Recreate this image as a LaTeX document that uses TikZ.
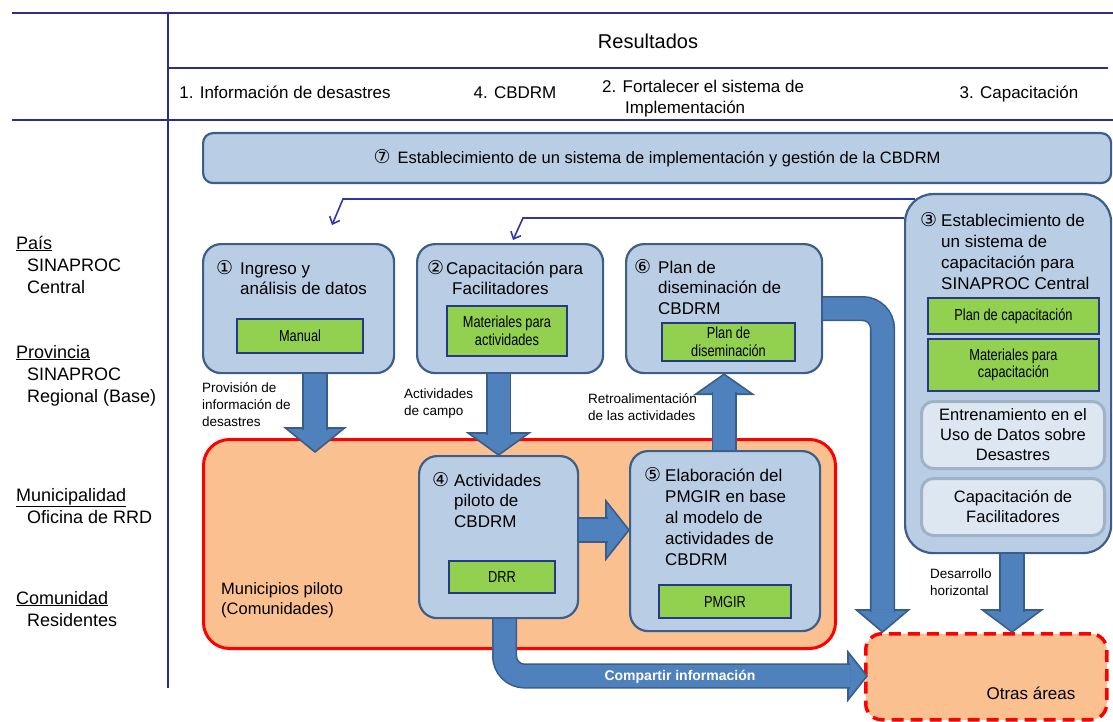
\documentclass[tikz,border=0pt]{standalone}
\usepackage{fontspec}
\setmainfont{Liberation Sans}
\newfontfamily\symfont{DejaVu Sans}
\newfontfamily\narrowfont[FakeStretch=0.8]{Liberation Sans}
\usetikzlibrary{arrows.meta}
\definecolor{navy}{RGB}{46,46,138}
\definecolor{ptblue}{RGB}{52,52,170}
\definecolor{boxfill}{RGB}{185,205,229}
\definecolor{boxline}{RGB}{62,94,138}
\definecolor{greenfill}{RGB}{146,208,80}
\definecolor{greenline}{RGB}{36,58,130}
\definecolor{palefill}{RGB}{221,231,242}
\definecolor{paleline}{RGB}{160,178,198}
\definecolor{arrfill}{RGB}{79,129,189}
\definecolor{arrline}{RGB}{56,93,138}
\definecolor{peach}{RGB}{250,192,144}
\newcommand{\circnum}[1]{\makebox[24pt][l]{\symfont\fontsize{19}{19}\selectfont #1}}
\newcommand{\txtlines}[1]{\begin{tabular}[t]{@{}l@{}}#1\end{tabular}}

\begin{document}
\begin{tikzpicture}[x=1pt,y=-1pt,
    navyline/.style={draw=navy, line width=2pt},
    bluebox/.style={draw=boxline, fill=boxfill, line width=2.2pt, rounded corners=18pt, anchor=north west, inner sep=0pt},
    greenbox/.style={draw=greenline, fill=greenfill, line width=2pt, anchor=north west, inner sep=0pt, align=center, font=\narrowfont\fontsize{16}{17.5}\selectfont},
    palebox/.style={draw=paleline, fill=palefill, line width=3pt, rounded corners=12pt, anchor=north west, inner sep=0pt, align=center, font=\fontsize{16.5}{20}\selectfont},
    munbox/.style={draw=red, fill=peach, line width=3pt, rounded corners=26pt, anchor=north west, inner sep=0pt},
    otrasbox/.style={draw=red, fill=peach, line width=3.5pt, dash pattern=on 12pt off 7pt, rounded corners=16pt, anchor=north west, inner sep=0pt},
    boxtxt/.style={anchor=base west, inner sep=0pt, font=\fontsize{17}{20.5}\selectfont},
    small/.style={anchor=base west, inner sep=0pt, font=\fontsize{13.5}{17}\selectfont},
    side/.style={anchor=base west, inner sep=0pt, font=\fontsize{18}{22}\selectfont},
    head/.style={anchor=base, inner sep=0pt, font=\fontsize{17}{21}\selectfont},
    pointer/.style={draw=ptblue, line width=1.6pt, -{Straight Barb[length=6pt,width=11pt]}},
    fatband/.style={draw=arrline, double=arrfill, double distance=22pt, line width=1.6pt, rounded corners=20pt},
    fathead/.style={draw=arrline, fill=arrfill, line width=1.6pt}]

\useasboundingbox (0,0) rectangle (1113,722);

\draw[navyline] (12,13) -- (1113,13);
\draw[navyline] (168,68) -- (1108,68);
\draw[navyline] (12,120) -- (1113,120);
\draw[navyline, line width=1.5pt] (168,13) -- (168,688);

\node[head, font=\fontsize{20}{24}\selectfont] (res) at (648,49) {Resultados};
\node[head] (h1) at (285,99) {1. Información de desastres};
\node[head] (h4) at (515,99) {4. CBDRM};
\node[head, anchor=base west] (h2) at (602,93) {\txtlines{2. Fortalecer el sistema de\\\hspace*{23pt}Implementación}};
\node[head] (h3) at (1019,99) {3. Capacitación};

\node[side] (pais) at (16,249) {\txtlines{\underline{País}\\\hspace*{11pt}SINAPROC\\\hspace*{11pt}Central}};
\node[side] (prov) at (16,358) {\txtlines{\underline{Provincia}\\\hspace*{11pt}SINAPROC\\\hspace*{11pt}Regional (Base)}};
\node[side] (muni) at (16,501) {\txtlines{\underline{Municipalidad}\\\hspace*{11pt}Oficina de RRD}};
\node[side] (comu) at (16,604) {\txtlines{\underline{Comunidad}\\\hspace*{11pt}Residentes}};

\node[bluebox, rounded corners=10pt, minimum width=908pt, minimum height=50pt, font=\fontsize{16.5}{20}\selectfont] (b7) at (202,132) {\circnum{⑦}Establecimiento de un sistema de implementación y gestión de la CBDRM};

\node[munbox, minimum width=632pt, minimum height=209pt] (mun) at (202,438) {};
\node[otrasbox, minimum width=241pt, minimum height=86pt] (otras) at (864,632) {};

\coordinate (k1) at (343,199);
\coordinate (k2) at (523,218);
\coordinate (p1) at (332,225);
\coordinate (p2) at (513,240);

\node[bluebox, rounded corners=28pt, minimum width=206pt, minimum height=359pt] (b3) at (904,193) {};
\draw[pointer] ([shift={(11,6)}]b3.north west) -- (k1) -- (p1);
\draw[pointer] (b3.west |- k2) -- (k2) -- (p2);

\node[bluebox, minimum width=191pt, minimum height=129pt] (b1) at (202,243) {};
\node[bluebox, minimum width=186pt, minimum height=129pt] (b2) at (416,243) {};
\node[bluebox, minimum width=196pt, minimum height=129pt] (b6) at (625,243) {};
\node[bluebox, minimum width=159pt, minimum height=162pt] (b4) at (418,455) {};
\node[bluebox, minimum width=190pt, minimum height=180pt] (b5) at (629,450) {};

\node[greenbox, minimum width=126pt, minimum height=34pt] (gman) at (236,318) {Manual};
\node[greenbox, minimum width=120pt, minimum height=50pt] (gmat) at (446,305) {Materiales para\\actividades};
\node[greenbox, minimum width=133pt, minimum height=38pt] (gdis) at (661,322) {Plan de\\diseminación};
\node[greenbox, minimum width=171pt, minimum height=36pt] (gplc) at (927,297) {Plan de capacitación};
\node[greenbox, minimum width=171pt, minimum height=52pt] (gmtc) at (927,338) {Materiales para\\capacitación};
\node[greenbox, minimum width=106pt, minimum height=32pt] (gdrr) at (448,560) {DRR};
\node[greenbox, minimum width=132pt, minimum height=33pt] (gpmg) at (658,584) {PMGIR};

\node[palebox, minimum width=183pt, minimum height=67pt] (pent) at (920,400) {Entrenamiento en el\\Uso de Datos sobre\\Desastres};
\node[palebox, minimum width=183pt, minimum height=57pt] (pcap) at (920,477) {Capacitación de\\Facilitadores};

\coordinate (tA) at (315,452);
\filldraw[fathead] (tA) -- ++(-29.5,-24) -- ++(59,0) -- cycle;
\draw[fatband] (b1.south -| tA) -- ([yshift=22pt]tA);

\filldraw[fathead] (b4.north) -- ++(-30.5,-22) -- ++(61,0) -- cycle;
\draw[fatband] (b2.south -| b4.north) -- ([yshift=20pt]b4.north);

\filldraw[fathead] (b6.south) -- ++(-28.5,20) -- ++(57,0) -- cycle;
\draw[fatband] (b5.north -| b6.south) -- ([yshift=-18pt]b6.south);

\coordinate (tD) at (629,530);
\filldraw[fathead] (tD) -- ++(-23,-29) -- ++(0,58) -- cycle;
\draw[fatband] (b4.east |- tD) -- ([xshift=-21pt]tD);

\coordinate (tE) at (882.5,632);
\filldraw[fathead] (tE) -- ++(-26,-22) -- ++(52,0) -- cycle;
\draw[fatband] (b6.east) -- (b6.east -| tE) -- ([yshift=20pt]tE);

\coordinate (tF) at (1012,632);
\filldraw[fathead] (tF) -- ++(-29.5,-22) -- ++(59,0) -- cycle;
\draw[fatband] (b3.south -| tF) -- ([yshift=20pt]tF);

\coordinate (tG) at (867,676);
\filldraw[fathead] (tG) -- ++(-19,-24) -- ++(0,48) -- cycle;
\draw[fatband] ([xshift=6pt]b4.south) |- ([xshift=-17pt]tG);
\node[text=white, inner sep=0pt, font=\bfseries\fontsize{14}{16}\selectfont] (comp) at (680,677) {Compartir información};

\node[boxtxt] (b1t) at ([shift={(14,31)}]b1.north west) {\circnum{①}\txtlines{Ingreso y\\análisis de datos}};
\node[boxtxt] (b2t) at ([shift={(11,31)}]b2.north west) {\makebox[19pt][l]{\symfont\fontsize{19}{19}\selectfont ②}\txtlines{Capacitación para\\\hspace*{6pt}Facilitadores}};
\node[boxtxt] (b6t) at ([shift={(9,30)}]b6.north west) {\circnum{⑥}\txtlines{Plan de\\diseminación de\\CBDRM}};
\node[boxtxt, font=\fontsize{17}{21}\selectfont] (b3t) at ([shift={(16,33)}]b3.north west) {\makebox[21pt][l]{\symfont\fontsize{19}{19}\selectfont ③}\txtlines{Establecimiento de\\un sistema de\\capacitación para\\SINAPROC Central}};
\node[boxtxt] (b4t) at ([shift={(14,31)}]b4.north west) {\makebox[22pt][l]{\symfont\fontsize{19}{19}\selectfont ④}\txtlines{Actividades\\piloto de\\CBDRM}};
\node[boxtxt, font=\fontsize{17}{21}\selectfont] (b5t) at ([shift={(15,31)}]b5.north west) {\makebox[21pt][l]{\symfont\fontsize{19}{19}\selectfont ⑤}\txtlines{Elaboración del\\PMGIR en base\\al modelo de\\actividades de\\CBDRM}};

\node[small] (lprov) at (202,392) {\txtlines{Provisión de\\información de\\desastres}};
\node[small] (lcamp) at (404,398) {\txtlines{Actividades\\de campo}};
\node[small] (lretr) at (588,403) {\txtlines{Retroalimentación\\de las actividades}};
\node[small] (ldesa) at (930,578) {\txtlines{Desarrollo\\horizontal}};
\node[boxtxt, font=\fontsize{16.5}{20}\selectfont] (lmun) at (221,594) {\txtlines{Municipios piloto\\(Comunidades)}};
\node[inner sep=0pt, font=\fontsize{17}{20}\selectfont] (lotr) at (1031,693) {Otras áreas};
\end{tikzpicture}
\end{document}
